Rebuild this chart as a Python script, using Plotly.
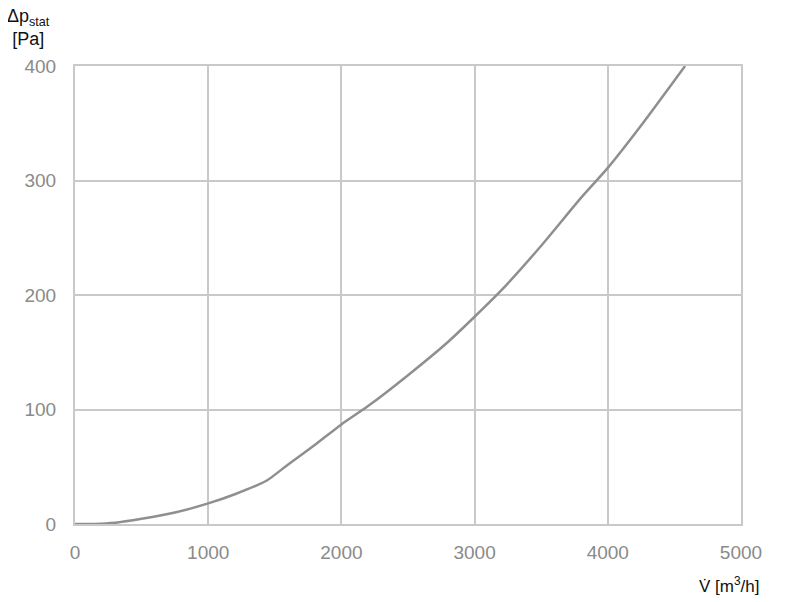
import plotly.graph_objects as go

# Fan curve
flow = [0, 150, 300, 500, 750, 1000, 1200, 1440, 1600, 1800, 2000, 2200, 2500, 2800, 3000, 3200, 3500, 3800, 4000, 4250, 4580]
dp_stat = [0, 0, 1, 4.5, 10, 18, 26, 38, 52, 69, 87, 103, 130, 159, 181, 204, 243, 285, 311, 348, 400]

x_ticks = [0, 1000, 2000, 3000, 4000, 5000]
y_ticks = [0, 100, 200, 300, 400]

fig = go.Figure()
fig.add_trace(go.Scatter(
    x=flow, y=dp_stat, mode="lines",
    line=dict(color="#8f8f8f", width=2.5, shape="spline", smoothing=0.6),
    showlegend=False, hoverinfo="skip",
))

axis_common = dict(
    showgrid=True, gridcolor="#c9c9c9", gridwidth=2,
    showline=True, linecolor="#c9c9c9", linewidth=2, mirror=True,
    zeroline=False,
    ticks="outside", tickcolor="rgba(0,0,0,0)",
    tickfont=dict(family="Liberation Sans, Arial, sans-serif", size=19, color="#8a8a8a"),
)

fig.update_xaxes(range=[0, 5000], tickvals=x_ticks, ticklen=10, **axis_common)
fig.update_yaxes(range=[0, 400], tickvals=y_ticks, ticklen=13, **axis_common)

fig.add_annotation(
    text="Δp<sub>stat</sub><br>[Pa]", xref="paper", yref="paper",
    x=-0.105, y=1.135, xanchor="left", yanchor="top", showarrow=False, align="center",
    font=dict(family="Liberation Sans, Arial, sans-serif", size=18, color="#111111"),
)
fig.add_annotation(
    text="V̇ [m<sup>3</sup>/h]", xref="paper", yref="paper",
    x=1.03, y=-0.105, xanchor="right", yanchor="top", showarrow=False,
    font=dict(family="Liberation Sans, Arial, sans-serif", size=17, color="#111111"),
)

# page body adds an 8px offset, so the figure is a little smaller than the window
fig.update_layout(
    width=792, height=594,
    margin=dict(l=67, r=59, t=58, b=78),
    plot_bgcolor="white", paper_bgcolor="white",
)

fig.write_html("out.html")
